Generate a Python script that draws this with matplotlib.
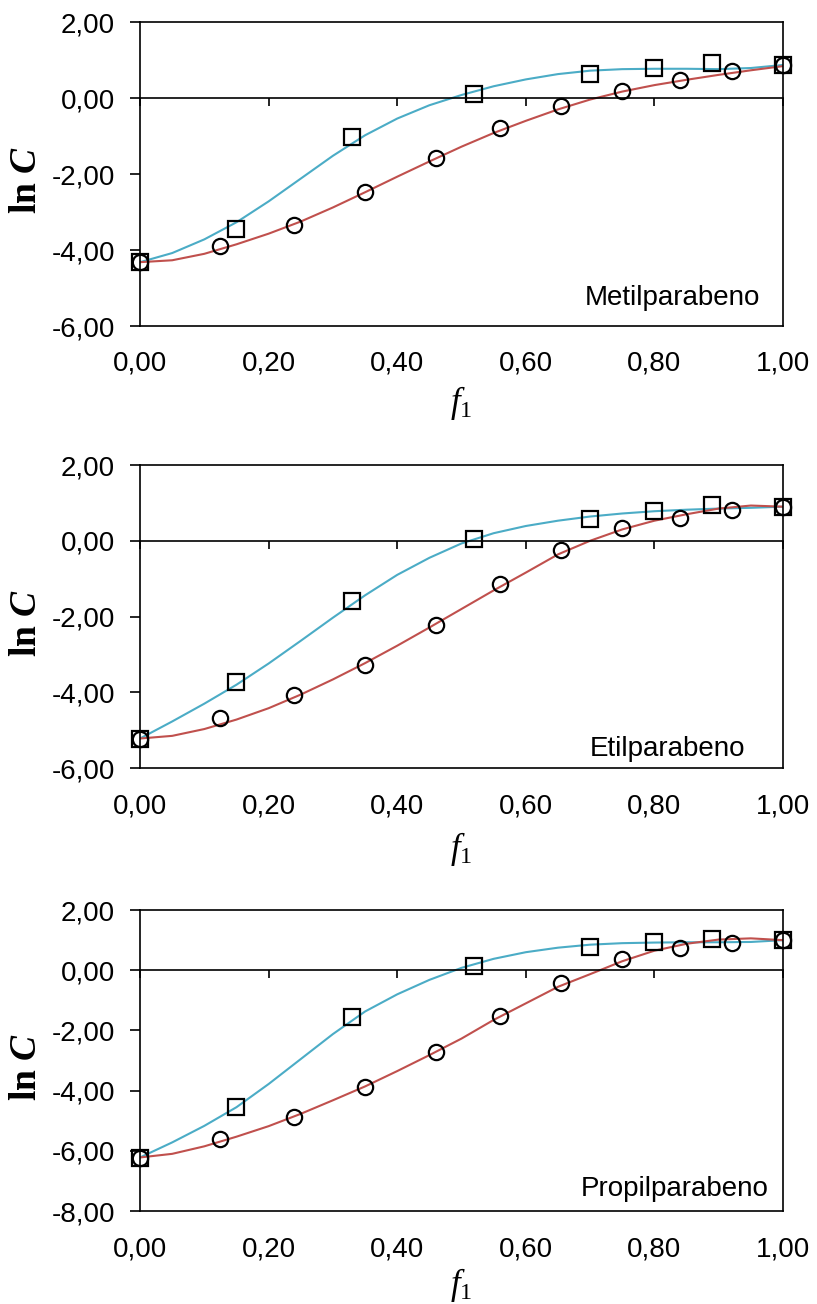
import matplotlib.pyplot as plt

plt.rcParams['font.family'] = ['Liberation Sans', 'DejaVu Sans']
plt.rcParams['mathtext.fontset'] = 'custom'
plt.rcParams['mathtext.rm'] = 'Liberation Serif'
plt.rcParams['mathtext.it'] = 'Liberation Serif:italic'
plt.rcParams['mathtext.bf'] = 'Liberation Serif:bold'
plt.rcParams['mathtext.bfit'] = 'Liberation Serif:italic:bold'

# data
names = ["Metilparabeno", "Etilparabeno", "Propilparabeno"]

f_sq = [0.00, 0.15, 0.33, 0.52, 0.70, 0.80, 0.89, 1.00]
f_ci = [0.00, 0.125, 0.24, 0.35, 0.46, 0.56, 0.655, 0.75, 0.84, 0.92, 1.00]
f_curve = [0.00, 0.05, 0.10, 0.15, 0.20, 0.25, 0.30, 0.35, 0.40, 0.45, 0.50,
           0.55, 0.60, 0.65, 0.70, 0.75, 0.80, 0.85, 0.90, 0.95, 1.00]

sq_metil = [-4.32, -3.44, -1.02, 0.10, 0.62, 0.79, 0.91, 0.86]
ci_metil = [-4.32, -3.90, -3.33, -2.47, -1.57, -0.79, -0.22, 0.19, 0.47, 0.70, 0.86]
blue_metil = [-4.32, -4.08, -3.72, -3.27, -2.72, -2.12, -1.52, -0.98, -0.54, -0.19, 0.08,
              0.31, 0.49, 0.63, 0.72, 0.76, 0.77, 0.77, 0.76, 0.79, 0.87]
red_metil = [-4.32, -4.27, -4.10, -3.85, -3.57, -3.25, -2.88, -2.48, -2.07, -1.67, -1.28,
             -0.92, -0.60, -0.30, -0.04, 0.17, 0.34, 0.48, 0.61, 0.73, 0.84]

sq_etil = [-5.24, -3.74, -1.58, 0.04, 0.57, 0.79, 0.95, 0.88]
ci_etil = [-5.24, -4.67, -4.07, -3.28, -2.22, -1.14, -0.25, 0.33, 0.59, 0.81, 0.90]
blue_etil = [-5.22, -4.77, -4.30, -3.80, -3.24, -2.64, -2.03, -1.44, -0.90, -0.45, -0.07,
             0.20, 0.39, 0.53, 0.64, 0.72, 0.78, 0.82, 0.85, 0.87, 0.90]
red_etil = [-5.22, -5.15, -4.97, -4.72, -4.42, -4.06, -3.66, -3.23, -2.77, -2.29, -1.80,
            -1.31, -0.84, -0.36, 0.00, 0.30, 0.53, 0.70, 0.85, 0.93, 0.90]

sq_propil = [-6.25, -4.56, -1.55, 0.14, 0.78, 0.94, 1.03, 1.00]
ci_propil = [-6.25, -5.61, -4.88, -3.89, -2.71, -1.52, -0.41, 0.37, 0.73, 0.92, 1.02]
blue_propil = [-6.22, -5.72, -5.17, -4.55, -3.78, -2.95, -2.12, -1.37, -0.80, -0.32, 0.08,
               0.38, 0.60, 0.75, 0.85, 0.90, 0.92, 0.93, 0.93, 0.94, 1.00]
red_propil = [-6.22, -6.10, -5.85, -5.53, -5.18, -4.77, -4.32, -3.86, -3.35, -2.82, -2.27,
              -1.65, -1.10, -0.55, -0.13, 0.30, 0.65, 0.88, 1.02, 1.06, 1.00]

x_ticks = [0.0, 0.2, 0.4, 0.6, 0.8, 1.0]
x_labels = ["0,00", "0,20", "0,40", "0,60", "0,80", "1,00"]
y_ticks_a = [-6, -4, -2, 0, 2]
y_labels_a = ["-6,00", "-4,00", "-2,00", "0,00", "2,00"]
y_ticks_b = [-8, -6, -4, -2, 0, 2]
y_labels_b = ["-8,00", "-6,00", "-4,00", "-2,00", "0,00", "2,00"]

squares = [sq_metil, sq_etil, sq_propil]
circles = [ci_metil, ci_etil, ci_propil]
blues = [blue_metil, blue_etil, blue_propil]
reds = [red_metil, red_etil, red_propil]
yticks = [(y_ticks_a, y_labels_a), (y_ticks_a, y_labels_a), (y_ticks_b, y_labels_b)]

BLUE = '#4BACC6'
RED = '#C0504D'

rects = [[0.1714, 0.750, 0.787, 0.2331],
         [0.1714, 0.411, 0.787, 0.2324],
         [0.1714, 0.0713, 0.787, 0.2308]]
name_pos = [(0.964, 0.069), (0.941, 0.040), (0.977, 0.050)]
xlab_off = [-0.19, -0.205, -0.183]

fig = plt.figure(figsize=(8.17, 13.04), dpi=100)

for i in range(3):
    ax = fig.add_axes(rects[i])
    ax.plot(f_curve, blues[i], color=BLUE, lw=1.5, zorder=2)
    ax.plot(f_curve, reds[i], color=RED, lw=1.5, zorder=2)
    ax.plot(f_sq, squares[i], 's', ms=11, mfc='none', mec='black', mew=1.6,
            clip_on=False, zorder=3)
    ax.plot(f_ci, circles[i], 'o', ms=11, mfc='none', mec='black', mew=1.6,
            clip_on=False, zorder=3)

    yt, yl = yticks[i]
    ax.set_xlim(0, 1)
    ax.set_ylim(yt[0], yt[-1])
    ax.set_yticks(yt, yl)

    for s in ax.spines.values():
        s.set_linewidth(1.2)
    ax.spines['bottom'].set_position(('data', 0))
    ax.set_xticks(x_ticks)
    ax.tick_params(axis='x', labelbottom=False, direction='out', length=6, width=1.2)
    ax.tick_params(axis='y', direction='out', length=7, width=1.2, pad=11, labelsize=20)

    sec = ax.secondary_xaxis('bottom')
    sec.set_xticks(x_ticks, x_labels)
    sec.tick_params(length=0, pad=18, labelsize=20)
    sec.spines['bottom'].set_linewidth(1.2)

    ax.text(name_pos[i][0], name_pos[i][1], names[i], transform=ax.transAxes,
            ha='right', va='baseline', fontsize=20)

    ax.set_ylabel('ln $\\mathbfit{C}$', family='Liberation Serif', fontweight='bold',
                  fontsize=27, va='center')
    ax.yaxis.set_label_coords(-0.177, 0.48)
    ax.set_xlabel('$f_1$', fontsize=25, va='top')
    ax.xaxis.set_label_coords(0.5, xlab_off[i])

fig.savefig('out.png', dpi=100)
